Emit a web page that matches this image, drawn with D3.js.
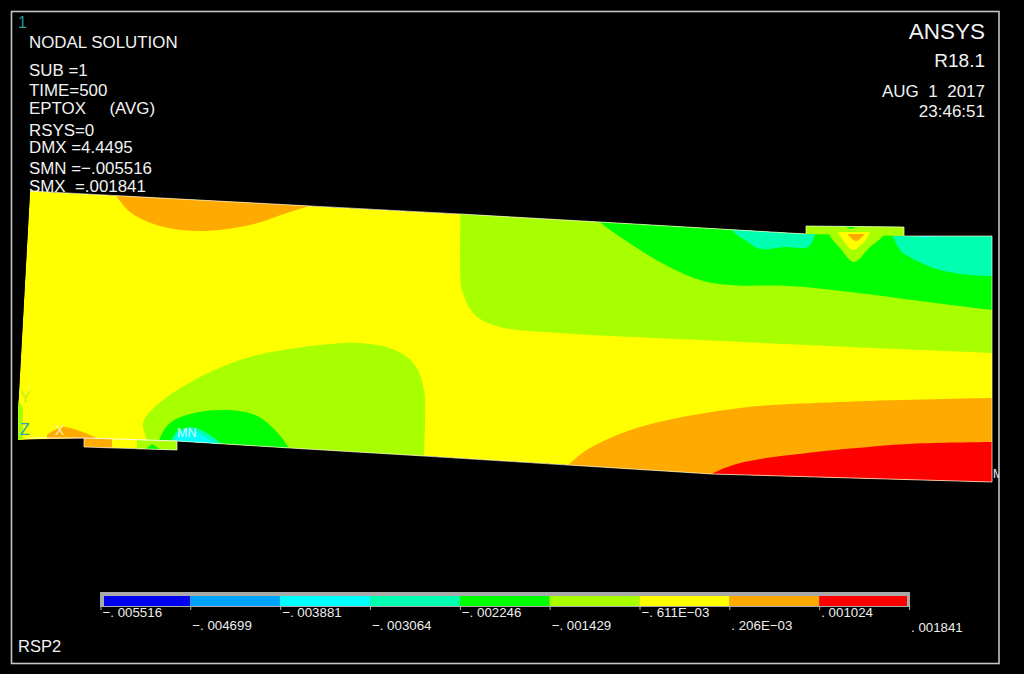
<!DOCTYPE html>
<html>
<head>
<meta charset="utf-8">
<script src="https://cdn.jsdelivr.net/npm/d3@7"></script>
<style>
html, body { margin: 0; padding: 0; background: #000; }
svg { display: block; }
text { font-family: "Liberation Sans", sans-serif; fill: #f2f2f2; }
</style>
</head>
<body>
<div class="plot-container"></div>
<script>
// Contour levels + tick labels (legend)
const levels = [-0.005516, -0.004699, -0.003881, -0.003064, -0.002246, -0.001429, -0.000611, 0.000206, 0.001024, 0.001841];
const level_labels = ['−. 005516', '−. 004699', '−. 003881', '−. 003064', '−. 002246', '−. 001429', '−. 611E−03', '. 206E−03', '. 001024', '. 001841'];
const band_colors = ['#0000f0', '#00a4ff', '#00ffff', '#00ffb0', '#00ff00', '#a8ff00', '#ffff00', '#ffaa00', '#ff0000'];

// Text blocks
const info_lines = [['NODAL SOLUTION', 48], ['SUB =1', 76], ['TIME=500', 96], ['EPTOX     (AVG)', 114], ['RSYS=0', 136], ['DMX =4.4495', 153], ['SMN =−.005516', 174], ['SMX  =.001841', 192]];
const title_lines = [['ANSYS', 39, 22.5], ['R18.1', 67, 19], ['AUG  1  2017', 97, 17], ['23:46:51', 117, 17]];
const mark_labels = ['Y', 'Z', 'X', 'MN', 'MX'];
const mark_points = [[2, 87], [2, 55], [37, 55], [159, 53], [975, 12]];
const mark_sizes = [16, 16, 14, 12.5, 12];
const mark_colors = ['#c4f020', '#2aa8a8', '#fff2b0', '#d8fff0', '#f0f0f0'];

// Model outline (model x, model y)
const body_outline = [[12,299],[442,276],[582,268],[788,256],[788,264],[886,263],[886,254],[974,254],[974,8],[694,16],[550,25],[406,34],[272,42],[159,49],[159,40],[66,43],[66,52],[0,50],[0,80]];

// Contour boundaries (model x, model y). The ends run past the outline and get clipped
const top_orange = [[92,300],[98,294],[112,278],[142,264],[182,259],[232,265],[272,278],[298,286],[312,292],[312,320],[92,320]];
const upper_lime = [[440,290],[442,276],[442,230],[444,200],[457,175],[482,163],[542,157],[682,150],[832,143],[974,137],[992,136],[992,300],[440,300]];
const upper_green = [[577,275],[582,268],[607,250],[642,228],[682,210],[712,205],[772,204],[832,198],[902,189],[974,180],[992,178],[992,300],[577,300]];
const upper_teal_left = [[715,265],[715,259],[727,250],[742,241],[767,243],[790,243],[797,255],[800,262]];
const upper_teal_right = [[872,262],[875,254],[882,240],[897,230],[922,220],[952,215],[974,214],[992,214],[992,300],[872,300]];
const notch_lime = [[810,260],[812,254],[822,242],[836,228],[852,243],[865,254],[867,260]];
const notch_yellow = [[820,258],[823,253],[835,240],[850,253],[852,258]];
const notch_orange = [[830,256],[831,254],[838,249],[845,254],[846,256]];
const lower_orange = [[542,18],[550,25],[572,42],[622,63],[722,82],[822,88],[974,92],[992,92],[992,-20],[542,-20]];
const lower_red = [[687,10],[694,16],[722,27],[789,37],[839,42],[889,46],[974,48],[992,48],[992,-20],[687,-20]];
const mid_lime = [[406,20],[406,34],[407,70],[406,100],[397,125],[377,140],[342,147],[302,145],[232,133],[182,113],[139,85],[125,67],[129,49],[132,30]];
const mid_green = [[140,40],[142,52],[152,67],[172,76],[207,80],[237,75],[257,60],[270,43],[274,34]];
const mid_teal = [[152,45],[157,56],[172,63],[187,58],[207,44]];
const mid_cyan = [[157,45],[160,58],[174,60],[187,53],[202,44]];
const corner_orange = [[29,55],[45,63],[79,52],[60,48],[29,48]];
const corner_lime = [[0,50],[0,90],[5,82],[5,50]];

// Little plates, straight edged
const top_plate = [[788,264],[886,263],[886,254],[788,256]];
const top_plate_green = [[825,264],[840,264],[833,261]];
const top_speck = [[902,254],[908,252],[914,254]];
const low_plate_orange = [[66,52],[94,51],[94,42],[66,43]];
const low_plate_lime = [[119,50],[159,49],[159,40],[119,41]];
const low_plate_green = [[128,41],[134,46],[142,41]];
const low_plate_top = [[9,52],[37,52],[66,52],[159,49]];

const svg_width = 1024;
const svg_height = 674;

const svg = d3.select('.plot-container')
    .append('svg')
    .attr('width', svg_width)
    .attr('height', svg_height);

svg.append('rect').attr('width', svg_width).attr('height', svg_height).attr('fill', '#000');

// frame
svg.append('rect')
    .attr('x', 11.5).attr('y', 11.5)
    .attr('width', 987.5).attr('height', 652)
    .attr('fill', 'none')
    .attr('stroke', '#c4c4c4')
    .attr('stroke-width', 1.6);

svg.append('text').attr('x', 18).attr('y', 28).style('font-size', '16px').style('fill', '#1f9c9c').text('1');

// text sits under the model, SMX gets cut off by it
svg.append('g').selectAll('text')
    .data(info_lines)
    .enter()
    .append('text')
    .attr('x', 29)
    .attr('y', d => d[1])
    .style('font-size', '16.9px')
    .style('white-space', 'pre')
    .text(d => d[0]);

svg.append('g').selectAll('text')
    .data(title_lines)
    .enter()
    .append('text')
    .attr('x', 985)
    .attr('y', d => d[1])
    .attr('text-anchor', 'end')
    .style('font-size', d => `${d[2]}px`)
    .style('white-space', 'pre')
    .text(d => d[0]);

svg.append('text').attr('x', 18).attr('y', 652).style('font-size', '16.5px').text('RSP2');

// scales: model -> screen
const x_scale = d3.scaleLinear().domain([0, 974]).range([18, 992]);
const y_scale = d3.scaleLinear().domain([0, 300]).range([490, 190]);

const straight_line = d3.line().x(d => x_scale(d[0])).y(d => y_scale(d[1]));
const smooth_line = d3.line().x(d => x_scale(d[0])).y(d => y_scale(d[1])).curve(d3.curveCatmullRom.alpha(0.5));

svg.append('clipPath').attr('id', 'body-clip')
    .append('path')
    .attr('d', straight_line(body_outline) + 'Z');

// MX runs into the frame and stops there
svg.append('clipPath').attr('id', 'frame-clip')
    .append('rect')
    .attr('x', 11).attr('y', 11)
    .attr('width', 988).attr('height', 653);

const plot = svg.append('g').attr('clip-path', 'url(#body-clip)');

plot.append('path').attr('d', straight_line(body_outline) + 'Z').attr('fill', band_colors[6]);

// n = how many points are smooth boundary, the rest are straight closing corners
const regions = [
    {pts: top_orange, n: 9, color: band_colors[7]},
    {pts: upper_lime, n: 11, color: band_colors[5]},
    {pts: upper_green, n: 11, color: band_colors[4]},
    {pts: upper_teal_left, n: 8, color: band_colors[3]},
    {pts: upper_teal_right, n: 8, color: band_colors[3]},
    {pts: top_plate, n: 0, color: band_colors[5]},
    {pts: top_plate_green, n: 0, color: band_colors[4]},
    {pts: top_speck, n: 0, color: band_colors[2]},
    {pts: notch_lime, n: 7, color: band_colors[5]},
    {pts: notch_yellow, n: 5, color: band_colors[6]},
    {pts: notch_orange, n: 5, color: band_colors[7]},
    {pts: lower_orange, n: 8, color: band_colors[7]},
    {pts: lower_red, n: 8, color: band_colors[8]},
    {pts: mid_lime, n: 14, color: band_colors[5]},
    {pts: mid_green, n: 9, color: band_colors[4]},
    {pts: mid_teal, n: 5, color: band_colors[3]},
    {pts: mid_cyan, n: 5, color: band_colors[2]},
    {pts: corner_orange, n: 3, color: band_colors[7]},
    {pts: corner_lime, n: 0, color: band_colors[5]},
    {pts: low_plate_orange, n: 0, color: band_colors[7]},
    {pts: low_plate_lime, n: 0, color: band_colors[5]},
    {pts: low_plate_green, n: 0, color: band_colors[4]}
];

function region_path(d){
    if(d.n === 0) return straight_line(d.pts) + 'Z';
    const rest = d.pts.slice(d.n).map(p => `L${x_scale(p[0])},${y_scale(p[1])}`).join('');
    return smooth_line(d.pts.slice(0, d.n)) + rest + 'Z';
}

plot.selectAll('.region')
    .data(regions)
    .enter()
    .append('path')
    .attr('class', 'region')
    .attr('d', region_path)
    .attr('fill', d => d.color);

// thin light edge around the model
svg.append('path')
    .attr('d', straight_line(body_outline.slice(0, 17)))
    .attr('fill', 'none')
    .attr('stroke', '#fff8e0')
    .attr('stroke-width', 0.7);

svg.append('path')
    .attr('d', straight_line(low_plate_top))
    .attr('fill', 'none')
    .attr('stroke', '#fff8e0')
    .attr('stroke-width', 1);

// axis triad and min / max marks
svg.append('g')
    .attr('clip-path', 'url(#frame-clip)')
    .selectAll('text')
    .data(mark_labels)
    .enter()
    .append('text')
    .attr('x', (d, i) => x_scale(mark_points[i][0]))
    .attr('y', (d, i) => y_scale(mark_points[i][1]))
    .style('font-size', (d, i) => `${mark_sizes[i]}px`)
    .style('fill', (d, i) => mark_colors[i])
    .text(d => d);

// legend
const legend_scale = d3.scaleLinear().domain([levels[0], levels[9]]).range([100.5, 909]);

const legend = svg.append('g').attr('class', 'legend');

legend.append('rect')
    .attr('x', 100).attr('y', 592)
    .attr('width', 810).attr('height', 15)
    .attr('fill', '#a9a9a9');

legend.selectAll('.cell')
    .data(band_colors)
    .enter()
    .append('rect')
    .attr('class', 'cell')
    .attr('x', (d, i) => i === 0 ? legend_scale(levels[0]) + 3.5 : legend_scale(levels[i]))
    .attr('y', 596)
    .attr('width', (d, i) => {
        const left = i === 0 ? legend_scale(levels[0]) + 3.5 : legend_scale(levels[i]);
        const right = i === 8 ? legend_scale(levels[9]) - 2 : legend_scale(levels[i + 1]);
        return right - left;
    })
    .attr('height', 10)
    .attr('fill', d => d);

const legend_axis = d3.axisBottom(legend_scale)
    .tickValues(levels)
    .tickSize(3)
    .tickFormat((d, i) => level_labels[i]);

const legend_axis_g = legend.append('g')
    .attr('transform', 'translate(0, 607)')
    .call(legend_axis);

legend_axis_g.select('.domain').remove();
legend_axis_g.selectAll('.tick line').attr('stroke', '#b0b0b0');
legend_axis_g.selectAll('.tick text')
    .attr('text-anchor', 'start')
    .attr('x', 1.5)
    .attr('y', (d, i) => i === 9 ? 25 : (i % 2 === 0 ? 10 : 23))
    .attr('dy', 0)
    .style('font-family', '"Liberation Sans", sans-serif')
    .style('font-size', '13.3px')
    .style('fill', '#eeeeee');
</script>
</body>
</html>
